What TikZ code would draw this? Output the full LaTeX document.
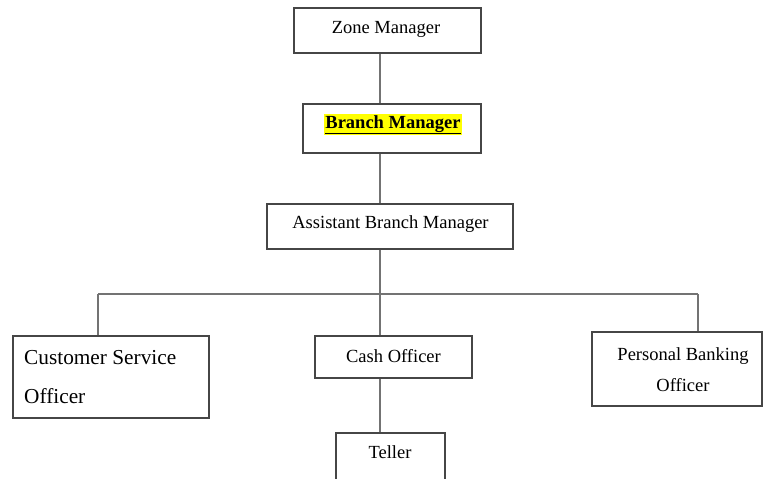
\documentclass[tikz,border=0pt]{standalone}
\usepackage{fontspec}
\setmainfont{Liberation Serif}
\definecolor{boxgray}{RGB}{70,70,70}
\definecolor{conngray}{RGB}{115,115,115}
\definecolor{hl}{RGB}{255,255,0}
\begin{document}
\begin{tikzpicture}[x=1pt,y=-1pt,
  box/.style={draw=boxgray, line width=1.1pt, rectangle, inner sep=0pt},
  txt/.style={font=\fontsize{18.5}{22}\selectfont, inner sep=0pt, text=black, anchor=base},
  bigtxt/.style={font=\fontsize{21.3}{26}\selectfont, inner sep=0pt, text=black, anchor=base west},
  conn/.style={draw=conngray, line width=1.1pt}]
\useasboundingbox (0,0) rectangle (763,479);
\clip (0,0) rectangle (763,479);
% boxes
\node[box, minimum width=187pt, minimum height=45pt] (zone) at (387.5,30.5) {};
\node[box, minimum width=178pt, minimum height=49pt] (branch) at (392,128.5) {};
\node[box, minimum width=246pt, minimum height=45pt] (abm) at (390,226.5) {};
\node[box, minimum width=196pt, minimum height=82pt] (cso) at (111,377) {};
\node[box, minimum width=157pt, minimum height=42pt] (cash) at (393.5,357) {};
\node[box, minimum width=109pt, minimum height=67pt] (teller) at (390.5,466.5) {};
\node[box, minimum width=170pt, minimum height=74pt] (pbo) at (677,369) {};
% texts
\node[txt] (zonet) at (386,33) {Zone Manager};
\node[txt] (brancht) at (393,128) {\setlength{\fboxsep}{1pt}\colorbox{hl}{\bfseries\underline{Branch Manager}}};
\node[txt] (abmt) at (390.5,228) {Assistant Branch Manager};
\node[bigtxt] (csot1) at (24,364) {Customer Service};
\node[bigtxt] (csot2) at (24,403) {Officer};
\node[txt] (casht) at (393.5,362) {Cash Officer};
\node[txt] (tellert) at (390,458) {Teller};
\node[txt] (pbot1) at (683,360) {Personal Banking};
\node[txt] (pbot2) at (683,391) {Officer};
% connectors
\coordinate (spine) at (380,0);
\coordinate (busL) at (98,294);
\coordinate (busR) at (698,294);
\draw[conn] (zone.south -| spine) -- (branch.north -| spine);
\draw[conn] (branch.south -| spine) -- (abm.north -| spine);
\draw[conn] (abm.south -| spine) -- (cash.north -| spine);
\draw[conn] (busL) -- (busR);
\draw[conn] (busL) -- (cso.north -| busL);
\draw[conn] (busR) -- (pbo.north -| busR);
\draw[conn] (cash.south -| spine) -- (teller.north -| spine);
\end{tikzpicture}
\end{document}
